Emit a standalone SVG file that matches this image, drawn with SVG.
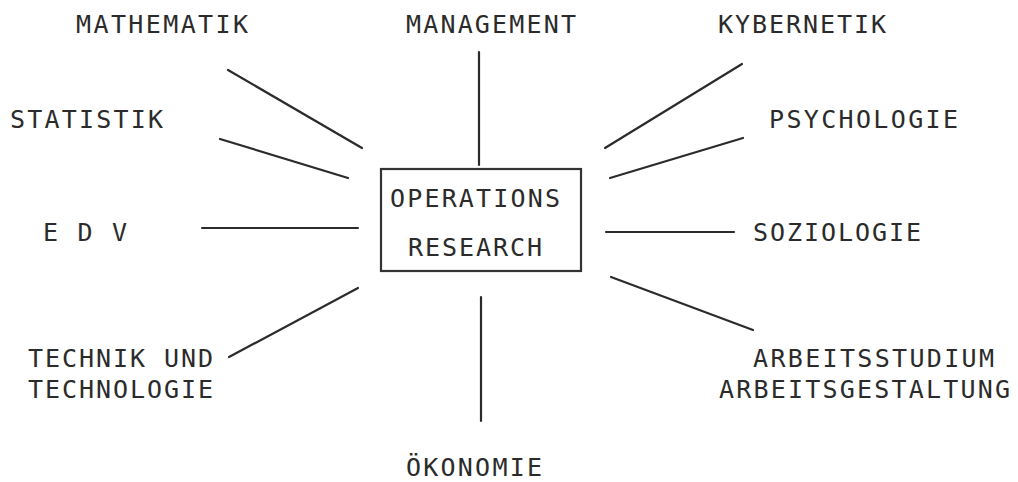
<svg xmlns="http://www.w3.org/2000/svg" width="1018" height="482" viewBox="0 0 1018 482">
<style>
text{font-family:"DejaVu Sans Mono","Liberation Mono",monospace;font-size:25px;fill:#2b2b2b}
.c line{stroke:#2b2b2b;stroke-width:2.2;stroke-linecap:round}
.box{fill:none;stroke:#333;stroke-width:2.2}
</style>
<rect width="1018" height="482" fill="#fff"/>
<g id="center"><rect class="box" x="381" y="169" width="200" height="102"/>
<text x="390" y="207" textLength="170">OPERATIONS</text>
<text x="408" y="256" textLength="134">RESEARCH</text></g>
<g id="mathematik"><text x="76" y="33" textLength="172">MATHEMATIK</text></g>
<g id="management"><text x="406" y="33" textLength="170">MANAGEMENT</text></g>
<g id="kybernetik"><text x="718" y="33" textLength="168">KYBERNETIK</text></g>
<g id="statistik"><text x="10" y="128" textLength="153">STATISTIK</text></g>
<g id="psychologie"><text x="769" y="128" textLength="189">PSYCHOLOGIE</text></g>
<g id="edv"><text x="43" y="241" textLength="84">E D V</text></g>
<g id="soziologie"><text x="753" y="241" textLength="168">SOZIOLOGIE</text></g>
<g id="technik"><text x="28" y="367" textLength="185">TECHNIK UND</text><text x="28" y="398" textLength="185">TECHNOLOGIE</text></g>
<g id="oekonomie"><text x="406" y="476" textLength="136">ÖKONOMIE</text></g>
<g id="arbeit"><text x="753" y="367" textLength="241">ARBEITSSTUDIUM</text><text x="719" y="398" textLength="291">ARBEITSGESTALTUNG</text></g>
<g id="connectors" class="c">
<line x1="479" y1="52" x2="479" y2="165"/>
<line x1="228" y1="70" x2="362" y2="148"/>
<line x1="220" y1="139" x2="348" y2="178"/>
<line x1="202" y1="228" x2="358" y2="228"/>
<line x1="605" y1="148" x2="742" y2="64"/>
<line x1="610" y1="178" x2="743" y2="138"/>
<line x1="606" y1="232" x2="734" y2="232"/>
<line x1="229" y1="357" x2="358" y2="288"/>
<line x1="481" y1="297" x2="481" y2="421"/>
<line x1="611" y1="277" x2="753" y2="330"/>
</g>
</svg>
